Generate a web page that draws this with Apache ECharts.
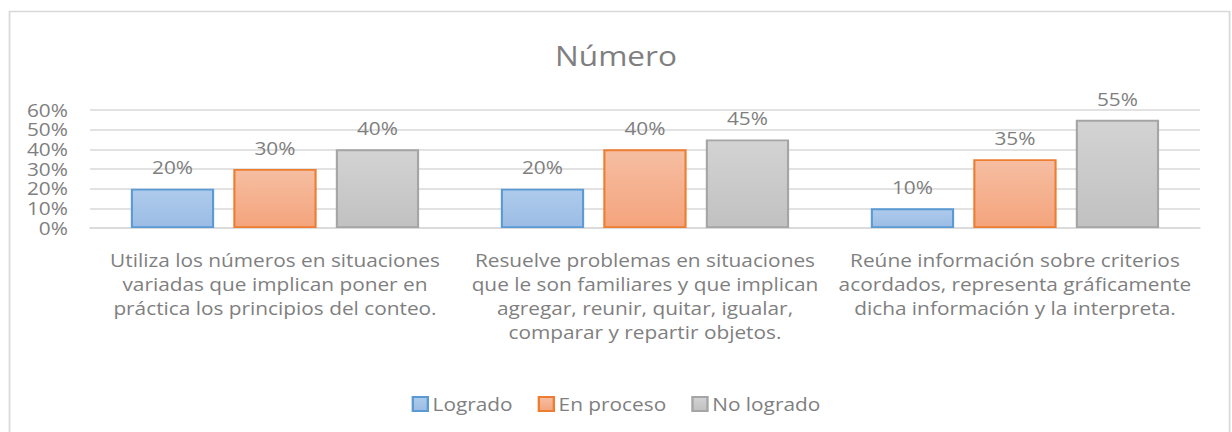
<!DOCTYPE html>
<html>
<head>
<meta charset="utf-8">
<script src="https://cdn.jsdelivr.net/npm/echarts@6/dist/echarts.min.js"></script>
<style>
  html, body { margin: 0; padding: 0; background: #fff; overflow: hidden; }
  /* the source picture is stretched sideways, so the chart is drawn narrower and scaled */
  #chart { width: 1035px; height: 432px; transform: scaleX(1.1903); transform-origin: 0 0; }
</style>
</head>
<body>
<div id="chart"></div>
<script>
var categories = [
    'Utiliza los números en situaciones\nvariadas que implican poner en\npráctica los principios del conteo.',
    'Resuelve problemas en situaciones\nque le son familiares y que implican\nagregar, reunir, quitar, igualar,\ncomparar y repartir objetos.',
    'Reúne información sobre criterios\nacordados, representa gráficamente\ndicha información y la interpreta.'
];
var seriesNames = ['Logrado', 'En proceso', 'No logrado'];
var logrado = [20, 20, 10];
var enProceso = [30, 40, 35];
var noLogrado = [40, 45, 55];
var yTicks = [0, 10, 20, 30, 40, 50, 60];

(function() {
    var fontFamily = '"Open Sans", sans-serif';
    var textColor = '#7f7f7f';

    function gradient(top, bottom) {
        return new echarts.graphic.LinearGradient(0, 0, 0, 1, [
            { offset: 0, color: top },
            { offset: 1, color: bottom }
        ]);
    }

    function makeSeries(name, data, fillTop, fillBottom, border) {
        return {
            name: name,
            type: 'bar',
            data: data,
            barWidth: 70,
            barGap: '23%',
            itemStyle: {
                color: gradient(fillTop, fillBottom),
                borderColor: border,
                borderWidth: 1.8
            },
            label: {
                show: true,
                position: 'top',
                distance: 12,
                formatter: '{c}%',
                color: textColor,
                fontSize: 17.5,
                fontFamily: fontFamily
            }
        };
    }

    var chart = echarts.init(document.getElementById('chart'), null, { renderer: 'svg' });
    chart.setOption({
        animation: false,
        textStyle: { fontFamily: fontFamily },
        title: {
            text: 'Número',
            left: 'center',
            top: 37,
            textStyle: { color: '#7f7f7f', fontSize: 26.5, fontWeight: 'normal', fontFamily: fontFamily }
        },
        graphic: [{
            type: 'rect',
            shape: { x: 8, y: 11.5, width: 1025, height: 440 },
            style: { fill: 'none', stroke: '#d9d9d9', lineWidth: 1.5 },
            silent: true
        }],
        legend: {
            bottom: 14,
            left: 'center',
            itemWidth: 12.6,
            itemHeight: 14,
            itemGap: 21,
            icon: 'rect',
            data: seriesNames,
            textStyle: { color: textColor, fontSize: 17.5, fontFamily: fontFamily, padding: [0, 0, 0, -1] }
        },
        grid: { left: 75.6, right: 26.9, top: 110, bottom: 204, containLabel: false },
        xAxis: {
            type: 'category',
            data: categories,
            axisLine: { show: true, lineStyle: { color: '#d9d9d9', width: 1.5 } },
            axisTick: { show: false },
            axisLabel: {
                interval: 0,
                margin: 20,
                color: textColor,
                fontSize: 17.5,
                lineHeight: 24,
                fontFamily: fontFamily,
                align: 'center'
            }
        },
        yAxis: {
            type: 'value',
            min: yTicks[0],
            max: yTicks[yTicks.length - 1],
            interval: 10,
            axisLine: { show: false },
            axisTick: { show: false },
            splitLine: { lineStyle: { color: '#d9d9d9', width: 1.5 } },
            axisLabel: {
                margin: 18.5,
                formatter: '{value}%',
                color: textColor,
                fontSize: 17.5,
                lineHeight: 18,
                fontFamily: fontFamily
            }
        },
        series: [
            makeSeries(seriesNames[0], logrado, '#aecbeb', '#9bbce5', '#5b9bd5'),
            makeSeries(seriesNames[1], enProceso, '#f6bea2', '#f4a47c', '#ed7d31'),
            makeSeries(seriesNames[2], noLogrado, '#d3d3d3', '#c1c1c1', '#a5a5a5')
        ]
    });
})();
</script>
</body>
</html>
